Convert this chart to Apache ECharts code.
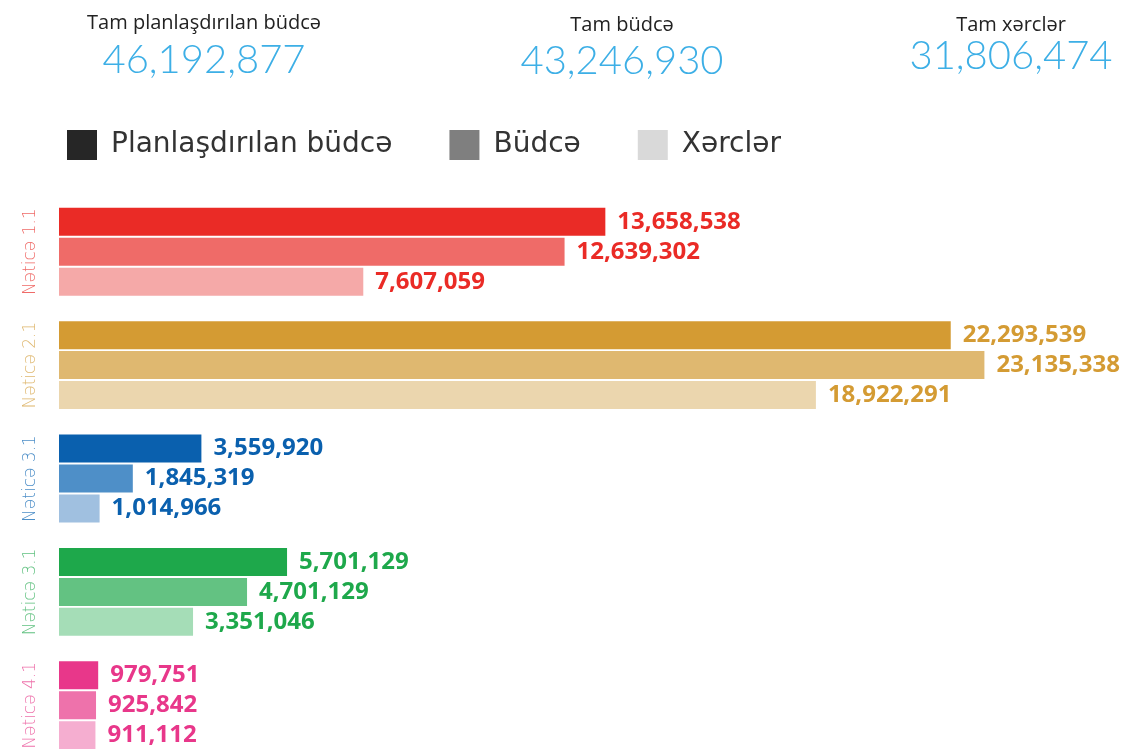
<!DOCTYPE html>
<html>
<head>
<meta charset="utf-8">
<script src="https://cdn.jsdelivr.net/npm/echarts@6/dist/echarts.min.js"></script>
<style>
  html, body { margin: 0; padding: 0; background: #fff; }
  #chart { width: 1122px; height: 749px; }
</style>
</head>
<body>
<div id="chart"></div>
<script>
// categories (top to bottom)
const categories = ['Nəticə 1.1', 'Nəticə 2.1', 'Nəticə 3.1', 'Nəticə 3.1', 'Nəticə 4.1'];
const seriesNames = ['Planlaşdırılan büdcə', 'Büdcə', 'Xərclər'];
const planned = [13658538, 22293539, 3559920, 5701129, 979751];
const budget = [12639302, 23135338, 1845319, 4701129, 925842];
const spent = [7607059, 18922291, 1014966, 3351046, 911112];

const kpiLabels = ['Tam planlaşdırılan büdcə', 'Tam büdcə', 'Tam xərclər'];
const kpiValues = [46192877, 43246930, 31806474];

// colour shades per category: dark, mid, light
const shades = [
  ['#EA2B26', '#EF6B68', '#F5A9A8'],
  ['#D49B33', '#DFB870', '#EBD6AE'],
  ['#0A60AE', '#4E8FC8', '#A0C0E0'],
  ['#1EA84B', '#63C282', '#A5DDB7'],
  ['#E8378A', '#EE72AB', '#F5AED0']
];
const legendColors = ['#262626', '#7F7F7F', '#D9D9D9'];

const fmt = v => v.toLocaleString('en-US');

const chart = echarts.init(document.getElementById('chart'));

const makeSeries = (name, values, shadeIdx) => ({
  type: 'bar',
  name,
  barWidth: 28,
  barGap: '7%',
  itemStyle: { color: legendColors[shadeIdx] },
  label: {
    show: true,
    position: 'right',
    distance: 12,
    fontFamily: 'Open Sans',
    fontWeight: 'bold',
    fontSize: 24,
    formatter: p => fmt(p.value)
  },
  data: values.map((v, i) => ({
    value: v,
    itemStyle: { color: shades[i][shadeIdx] },
    label: { color: shades[i][0] }
  }))
});

const kpiX = [204, 622, 1011];
const labelY = [13, 15, 15];
const valueY = [40, 41, 36];
const graphics = [];
kpiLabels.forEach((t, i) => {
  graphics.push({
    type: 'text', x: kpiX[i], y: labelY[i],
    style: { text: t, textAlign: 'center', fill: '#222', font: '20px "Open Sans"' }
  });
  graphics.push({
    type: 'text', x: kpiX[i], y: valueY[i],
    style: { text: fmt(kpiValues[i]), textAlign: 'center', fill: '#3DAFE6', font: '300 40px Lato' }
  });
});

const rich = {};
shades.forEach((s, i) => {
  rich['g' + i] = { color: s[1], fontSize: 17, fontFamily: 'DejaVu Sans', fontWeight: 'lighter' };
});

chart.setOption({
  animation: false,
  graphic: graphics,
  legend: {
    left: 67,
    top: 130,
    padding: 0,
    itemWidth: 30,
    itemHeight: 30,
    itemGap: 57,
    icon: 'rect',
    textStyle: { fontSize: 28, fontFamily: 'DejaVu Sans', color: '#333', padding: [0, 0, 0, 9] },
    data: seriesNames
  },
  grid: { left: 59, top: 195, width: 1040, height: 567, outerBoundsMode: 'none' },
  xAxis: {
    type: 'value',
    min: 0,
    max: 26000000,
    show: false
  },
  yAxis: {
    type: 'category',
    inverse: true,
    data: categories,
    axisLine: { show: false },
    axisTick: { show: false },
    axisLabel: {
      rotate: 90,
      margin: 20,
      formatter: (v, i) => `{g${i}|${v}}`,
      rich
    }
  },
  series: [
    makeSeries(seriesNames[0], planned, 0),
    makeSeries(seriesNames[1], budget, 1),
    makeSeries(seriesNames[2], spent, 2)
  ]
});
</script>
</body>
</html>
